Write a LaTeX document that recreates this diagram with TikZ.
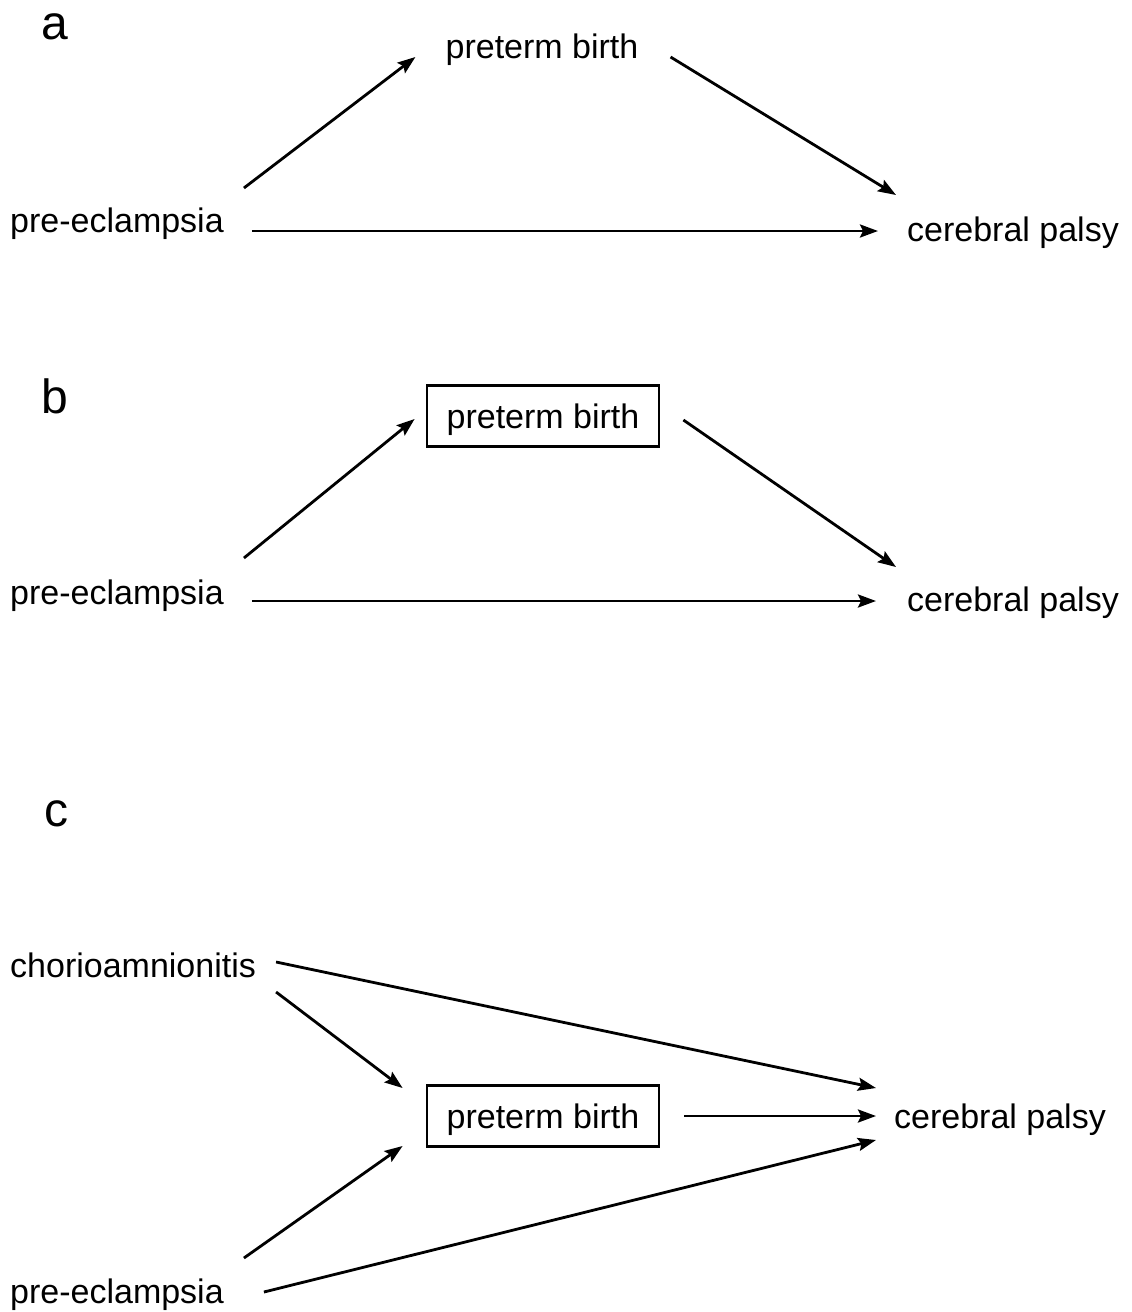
\documentclass[tikz,border=0pt]{standalone}
\usepackage{fontspec}
\setmainfont{Liberation Sans}
\usetikzlibrary{arrows.meta,calc}
\begin{document}
\begin{tikzpicture}[x=1pt,y=-1pt,
  lbl/.style={inner sep=0pt,font=\fontsize{34}{40}\selectfont},
  panel/.style={inner sep=0pt,font=\fontsize{48}{56}\selectfont},
  boxed/.style={draw,line width=2.8pt,minimum width=232pt,minimum height=61pt,inner sep=0pt,text height=30pt,text depth=6pt,font=\fontsize{34}{40}\selectfont},
  arr/.style={line width=2.8pt,-{Stealth[length=18pt,width=13pt,inset=3pt]}}]
\useasboundingbox (0,0) rectangle (1132,1312);
% panel a
\node[panel] (la) at (55,27) {a};
\node[lbl] (pb1) at (542,50) {preterm birth};
\node[lbl,anchor=west] (pe1) at (10,224) {pre-eclampsia};
\node[lbl,anchor=west] (cp1) at (907,233) {cerebral palsy};
\draw[arr] ($(pe1.east)+(20,-36)$) -- ($(pb1.west)+(-30,7)$);
\draw[arr] ($(pb1.east)+(32,7)$) -- ($(cp1.west)+(-11,-38)$);
\draw[arr] ($(pe1.east)+(28,7)$) -- ($(cp1.west)+(-29,-2)$);
% panel b
\node[panel] (lb) at (55,396) {b};
\node[boxed] (pb2) at (543,416) {preterm birth};
\node[lbl,anchor=west] (pe2) at (10,596) {pre-eclampsia};
\node[lbl,anchor=west] (cp2) at (907,603) {cerebral palsy};
\draw[arr] ($(pe2.east)+(20,-38)$) -- ($(pb2.west)+(-11,3)$);
\draw[arr] ($(pb2.east)+(23,4)$) -- ($(cp2.west)+(-11,-36)$);
\draw[arr] ($(pe2.east)+(28,5)$) -- ($(cp2.west)+(-31,-2)$);
% panel c
\node[panel] (lc) at (56,814) {c};
\node[lbl,anchor=west] (ch) at (10,965) {chorioamnionitis};
\node[boxed] (pb3) at (543,1116) {preterm birth};
\node[lbl,anchor=west] (cp3) at (894,1120) {cerebral palsy};
\node[lbl,anchor=west] (pe3) at (10,1295) {pre-eclampsia};
\draw[arr] ($(ch.east)+(20,-3)$) -- ($(cp3.west)+(-18,-32)$);
\draw[arr] ($(ch.east)+(20,27)$) -- ($(pb3.west)+(-23,-28)$);
\draw[arr] ($(pb3.east)+(24,0)$) -- ($(cp3.west)+(-18,-4)$);
\draw[arr] ($(pe3.east)+(20,-37)$) -- ($(pb3.west)+(-23,30)$);
\draw[arr] ($(pe3.east)+(40,-3)$) -- ($(cp3.west)+(-18,20)$);
\end{tikzpicture}
\end{document}
